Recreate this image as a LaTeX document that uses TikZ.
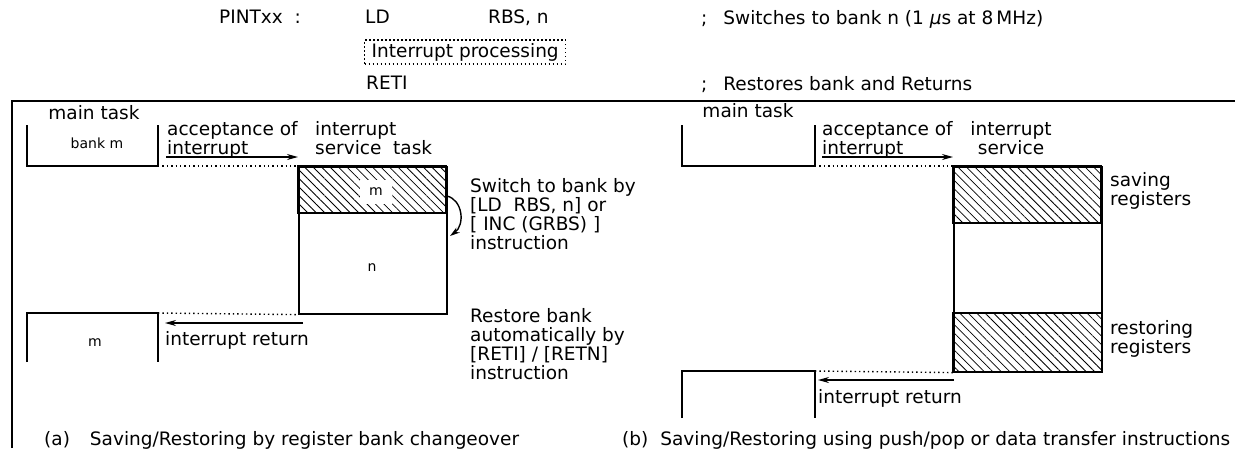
\documentclass[tikz,border=0pt]{standalone}
\usepackage{fontspec}
\setmainfont{DejaVu Sans}
\usetikzlibrary{arrows.meta, patterns.meta}

\begin{document}
\begin{tikzpicture}[x=1pt, y=-1pt,
            font = \fontsize{18.5}{19}\selectfont,
            txt/.style = {anchor=north west, inner sep=0pt, align=left},
            small/.style = {font=\fontsize{14}{16}\selectfont, inner sep=0pt},
            task/.style = {line width=1.6pt},
            hatch/.style = {pattern={Lines[angle=-45, distance=6pt, line width=0.8pt]}},
            dots/.style = {line width=1.4pt, dash pattern=on 1.4pt off 3pt},
            every edge/.style = {draw, line width=1.4pt, -{Stealth[length=11pt, width=6pt]}}
        ]
            \useasboundingbox (0,0) rectangle (1235,448);
            % program
            \node[txt] (pint) at (219,10) {PINTxx\ \ :};
            \node[txt] (ld) at (365,10) {LD};
            \node[txt] (rbs) at (488,10) {RBS,\ n};
            \node[anchor=west, draw, line width=1.4pt, dash pattern=on 1.4pt off 2.6pt,
                  inner xsep=7pt, inner ysep=3pt] (proc) at (364,52) {Interrupt processing};
            \node[txt] (reti) at (366,76) {RETI};
            \node[txt] (swc) at (701,10) {;\hspace{16pt}Switches to bank n (1 {\itshape μ}s at 8\,MHz)};
            \node[txt] (rsc) at (701,76) {;\hspace{16pt}Restores bank and Returns};
            \draw[task] (12,448) -- (12,101) -- (1235,101);

            % (a) register bank changeover
            \node[inner sep=0pt] (maina) at (94,113) {main task};
            \draw[task] (27,125) -- (27,166) -- (158,166) coordinate (ma) -- (158,125);
            \node[small] (banka) at (97,143) {bank m};
            \node[txt] (acca) at (167,121) {acceptance of\\interrupt};
            \node[txt] (isra) at (315,121) {interrupt\\service\ \ task};
            \node[draw, task, anchor=north west, minimum width=148pt, minimum height=147pt] (boxa) at (298,166) {};
            \path[draw, task, hatch] (boxa.north west) rectangle (446,213);
            \node[small, fill=white, minimum width=32pt, minimum height=24pt] (m1) at (376,192) {m};
            \node[small] (n1) at (372,268) {n};
            \coordinate (acc a) at (166,157);
            \draw[dots] (ma) -- (boxa.north west);
            \path (acc a) edge (boxa.north west |- acc a);
            \coordinate (sw a) at (447,196);
            \coordinate (sw b) at (450,236);
            \draw[line width=1.4pt, -{Stealth[length=10pt, width=6pt]}] (sw a) .. controls (463,200) and (465,225) .. (sw b);
            \node[txt] (swtxt) at (470,178) {Switch to bank by\\{}[LD\ \ RBS, n] or\\{}[ INC (GRBS) ]\\instruction};
            \node[txt] (rstxt) at (470,308) {Restore bank\\automatically by\\{}[RETI] / [RETN]\\instruction};
            \draw[task] (27,362) -- (27,313) -- (158,313) coordinate (mb) -- (158,362);
            \node[small] (m2) at (95,343) {m};
            \draw[dots] (mb) -- (boxa.south west);
            \coordinate (ret a) at (303,323);
            \coordinate (ret a end) at (165,323);
            \path (ret a) edge (ret a end);
            \node[txt] (reta) at (165,331) {interrupt return};
            \node[txt] (capa) at (44,431) {(a)\hspace{20pt}Saving/Restoring by register bank changeover};

            % (b) push/pop
            \node[inner sep=0pt] (mainb) at (748,111) {main task};
            \draw[task] (682,125) -- (682,166) -- (815,166) coordinate (mc) -- (815,125);
            \node[txt] (accb) at (822,121) {acceptance of\\interrupt};
            \node[txt, anchor=north, align=center] (isrb) at (1011,121) {interrupt\\service};
            \node[draw, task, anchor=north west, minimum width=148pt, minimum height=205pt] (boxb) at (953,166) {};
            \path[draw, task, hatch] (boxb.north west) rectangle (1101,223);
            \path[draw, task, hatch] (953,313) rectangle (boxb.south east);
            \coordinate (acc b) at (822,157);
            \draw[dots] (mc) -- (boxb.north west);
            \path (acc b) edge (boxb.north west |- acc b);
            \node[txt] (savb) at (1110,172) {saving\\registers};
            \node[txt] (resb) at (1110,320) {restoring\\registers};
            \draw[task] (682,418) -- (682,371) -- (815,371) coordinate (md) -- (815,418);
            \draw[dots] (md) -- (boxb.south west);
            \coordinate (ret b) at (954,380);
            \coordinate (ret b end) at (818,380);
            \path (ret b) edge (ret b end);
            \node[txt] (retb) at (818,389) {interrupt return};
            \node[txt] (capb) at (622,431) {(b)\hspace{12pt}Saving/Restoring using push/pop or data transfer instructions};
        \end{tikzpicture}
\end{document}
